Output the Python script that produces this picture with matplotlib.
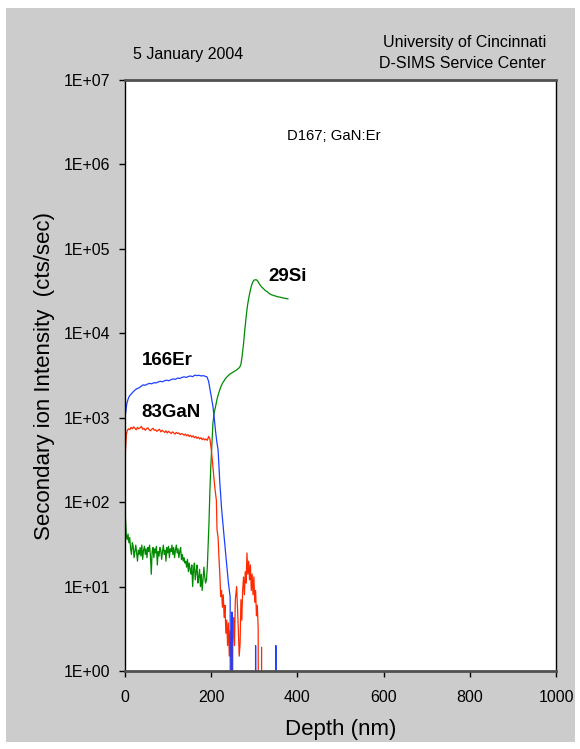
import matplotlib
matplotlib.use("Agg")
import matplotlib.pyplot as plt
import matplotlib.ticker as mticker
from matplotlib.patches import Rectangle

plt.rcParams['font.family'] = ['Liberation Sans', 'DejaVu Sans']

# 166Er depth profile (nm, cts/sec); 1e-3 stands for a zero count
er_depth = [0, 2, 4, 7, 10, 14, 18, 22, 27, 32, 37, 42, 47, 52, 57, 62, 67, 72, 77, 82,
            87, 92, 97, 102, 107, 112, 117, 122, 127, 132, 137, 142, 147, 152, 157, 162,
            167, 172, 177, 182, 187, 190, 194, 197, 200, 204, 207, 210, 213, 216, 220,
            224, 228, 232, 236, 240, 244, 245, 248, 248.5, 249.5, 302.5, 303, 303.5,
            349.5, 350, 350.5]
er_vals = [1000, 1200, 1450, 1650, 1800, 1900, 2000, 2100, 2200, 2250, 2350, 2450, 2420,
           2500, 2550, 2520, 2600, 2580, 2650, 2700, 2660, 2750, 2780, 2740, 2830, 2880,
           2850, 2950, 2920, 3000, 3050, 3000, 3080, 3120, 3060, 3200, 3150, 3180, 3120,
           3150, 3080, 3050, 2700, 2200, 1800, 1360, 1000, 700, 520, 414, 170, 85, 50,
           30, 18, 11, 7.5, 1e-3, 5, 1e-3, 1e-3, 1e-3, 2, 1e-3, 1e-3, 2, 1e-3]

# 83GaN
gan_depth = [0, 1, 3, 5, 8, 11, 14, 17, 20, 23, 26, 29, 32, 35, 38, 41, 44, 47, 50, 53,
             56, 59, 62, 65, 68, 71, 74, 77, 80, 83, 86, 89, 92, 95, 98, 101, 104, 107,
             110, 113, 116, 119, 122, 125, 128, 131, 134, 137, 140, 143, 146, 149, 152,
             155, 158, 161, 164, 167, 170, 173, 176, 179, 182, 185, 188, 191, 194, 197,
             200, 203, 206, 209, 212, 213.5, 216, 218, 220, 222, 224, 226, 228, 230, 232,
             234, 236, 238, 240, 242, 244, 246, 248, 250, 252, 254, 256, 259, 261, 263,
             265, 267, 269, 271, 273, 275, 277, 279, 281, 283, 285, 287, 289, 291, 293,
             295, 297, 299, 301, 303, 305, 307, 309, 310, 316, 317]
gan_vals = [150, 400, 620, 700, 740, 720, 770, 740, 780, 750, 720, 770, 740, 760, 790,
            730, 750, 710, 740, 760, 720, 700, 730, 750, 710, 720, 690, 710, 730, 680,
            710, 690, 670, 700, 660, 690, 670, 650, 680, 660, 640, 670, 650, 660, 630,
            650, 640, 620, 640, 610, 630, 600, 620, 590, 610, 580, 600, 570, 590, 560,
            580, 550, 570, 545, 560, 540, 600, 560, 430, 300, 200, 140, 105, 47, 38, 22,
            14, 7.6, 9, 5.7, 8, 4.3, 6, 2.8, 4, 2, 3.7, 1.5, 3, 1.2, 1e-3, 2.1, 4.3, 2,
            7, 10, 5.7, 3, 1.5, 2.1, 7, 4, 9, 13, 8, 15, 11, 25, 14, 20, 12, 18, 9, 14,
            8, 13, 6.5, 9, 4.5, 6, 3.2, 1e-3, 1e-3, 1.9]

# 29Si
si_depth = [0, 0.5, 1, 3, 5, 7, 9, 11, 13, 15, 17, 19, 21, 23, 25, 27, 29, 31, 33, 35,
            37, 39, 41, 43, 45, 47, 49, 51, 53, 55, 57, 59, 61, 63, 65, 67, 69, 71, 73,
            75, 77, 79, 81, 83, 85, 87, 89, 91, 93, 95, 97, 99, 101, 103, 105, 107, 109,
            111, 113, 115, 117, 119, 121, 123, 125, 127, 129, 131, 133, 135, 137, 139,
            141, 143, 145, 147, 149, 151, 153, 155, 157, 159, 161, 163, 165, 167, 169,
            171, 173, 175, 177, 179, 181, 183, 185, 187, 189, 191, 193, 195, 197, 199,
            201, 204, 207, 210, 214, 218, 222, 226, 230, 234, 238, 242, 246, 250, 254,
            258, 262, 266, 269, 272, 275, 278, 281, 284, 287, 290, 293, 296, 299, 302,
            305, 308, 311, 314, 318, 322, 326, 330, 335, 340, 345, 350, 355, 360, 365,
            370, 375, 378]
si_vals = [500, 150, 67, 40, 36, 42, 33, 38, 28, 24, 33, 30, 22, 26, 31, 25, 20, 27, 24,
           29, 23, 31, 21, 27, 30, 24, 28, 22, 29, 26, 31, 23, 14, 26, 29, 22, 28, 25, 30,
           18, 26, 23, 29, 27, 21, 26, 31, 24, 27, 20, 29, 25, 30, 22, 28, 26, 31, 24, 29,
           22, 27, 31, 25, 28, 22, 26, 29, 21, 24, 20, 22, 19, 20, 17, 21, 15, 19, 16, 14,
           18, 10, 16, 19, 12, 15, 18, 11, 13, 16, 10, 14, 9, 12, 17, 13, 11, 12, 17, 31,
           60, 138, 260, 414, 860, 1150, 1350, 1700, 2000, 2300, 2550, 2750, 2950, 3100,
           3250, 3350, 3450, 3550, 3650, 3800, 3950, 4300, 5500, 7500, 11000, 15500,
           21000, 26000, 31000, 36000, 40000, 42500, 43000, 43000, 41500, 39000, 37000,
           35000, 33500, 32000, 31000, 29500, 28600, 28000, 27500, 27000, 26800, 26300,
           26000, 25700, 25600]

x_ticks = [0, 200, 400, 600, 800, 1000]
y_exponents = [0, 1, 2, 3, 4, 5, 6, 7]

fig = plt.figure(figsize=(5.8, 7.49), dpi=100)
bg = Rectangle((6 / 580, 7 / 749), 569 / 580, 734 / 749,
               transform=fig.transFigure, facecolor='#cccccc', edgecolor='none')
bg.set_zorder(-10)
fig.add_artist(bg)
ax = fig.add_axes([125 / 580, 1 - 671 / 749, 431 / 580, 591 / 749])
ax.set_zorder(1)
ax.set_facecolor('white')

ax.plot(si_depth, si_vals, color='#008a00', lw=0.9)
ax.plot(gan_depth, gan_vals, color='#ff2a00', lw=0.9)
ax.plot(er_depth, er_vals, color='#1f3fff', lw=0.9)

ax.set_yscale('log')
ax.set_ylim(1, 1e7)
ax.set_xlim(0, 1000)
ax.set_xticks(x_ticks)
ax.set_yticks([10.0 ** e for e in y_exponents])
ax.set_yticklabels(['1E+%02d' % e for e in y_exponents])
ax.yaxis.set_minor_locator(mticker.NullLocator())
ax.tick_params(labelsize=11.5, length=4.5, width=1, direction='out')
ax.tick_params(axis='y', pad=6)
ax.tick_params(axis='x', pad=9)

for side in ['top', 'bottom']:
    ax.spines[side].set_color('#505050')
    ax.spines[side].set_linewidth(2)
for side in ['left', 'right']:
    ax.spines[side].set_color('black')
    ax.spines[side].set_linewidth(1)

ax.set_xlabel('Depth (nm)', fontsize=16)
ax.set_ylabel('Secondary ion Intensity  (cts/sec)', fontsize=16)
ax.xaxis.set_label_coords(0.5, -0.081)
ax.yaxis.set_label_coords(-0.162, 0.5)

ax.text(39, 4810, '166Er', fontsize=13.5, fontweight='bold', va='center')
ax.text(39, 1165, '83GaN', fontsize=13.5, fontweight='bold', va='center')
ax.text(332, 47600, '29Si', fontsize=13.5, fontweight='bold', va='center')
ax.text(375, 2.2e6, 'D167; GaN:Er', fontsize=10.7, va='center')

fig.text(133 / 580, 1 - 55 / 749, '5 January 2004', fontsize=11.5, va='center')
fig.text(546 / 580, 1 - 43 / 749, 'University of Cincinnati', fontsize=11.5,
         va='center', ha='right')
fig.text(546 / 580, 1 - 63 / 749, 'D-SIMS Service Center', fontsize=11.5,
         va='center', ha='right')

fig.savefig('out.png', dpi=100, facecolor='white')
